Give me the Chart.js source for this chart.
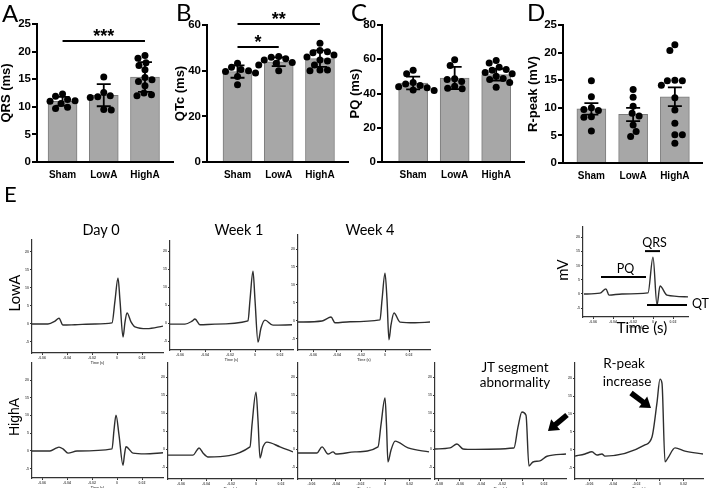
<!DOCTYPE html>
<html><head><meta charset="utf-8">
<script src="https://cdn.jsdelivr.net/npm/chart.js@4.4.1/dist/chart.umd.min.js"></script>
<style>
html,body{margin:0;padding:0;background:#fff;width:709px;height:488px;overflow:hidden;position:relative}
canvas{position:absolute}
#ov{position:absolute;left:0;top:0;z-index:5}
</style></head><body>
<script>
// ---------- DATA ----------
const groups = ['Sham', 'LowA', 'HighA'];

// A: QRS (ms)
const qrsSham  = [12.3, 11.9, 11.3, 11.1, 11.0, 10.6, 9.9, 9.7];
const qrsLowA  = [15.4, 12.6, 12.0, 11.8, 11.7, 9.5, 9.4];
const qrsHighA = [19.3, 18.8, 18.0, 17.5, 16.7, 15.3, 14.9, 14.6, 13.8, 12.5, 12.2, 12.0];
const qrsMean  = [11.0, 12.1, 15.4];
const qrsErr   = [0.8, 2.0, 2.7];
const qrsSig   = [[0, 2, 21.9, '***']];

// B: QTc (ms)
const qtcSham  = [43.3, 41.5, 40.5, 40.0, 39.6, 39.0, 37.4, 33.8];
const qtcLowA  = [46.2, 45.9, 45.2, 44.7, 43.6, 43.2, 42.5, 40.0];
const qtcHighA = [52.0, 48.8, 48.3, 47.9, 46.9, 46.0, 44.7, 44.2, 42.5, 40.3, 40.3, 40.0];
const qtcMean  = [39.6, 43.9, 45.3];
const qtcErr   = [2.7, 1.9, 3.6];
const qtcSig   = [[0, 1, 50.4, '*'], [0, 2, 60.4, '**']];

// C: PQ (ms)
const pqSham  = [53.6, 51.6, 46.4, 45.5, 44.7, 43.9, 43.4, 42.0, 41.8];
const pqLowA  = [59.7, 56.3, 48.6, 48.2, 47.0, 44.3, 43.0, 42.8];
const pqHighA = [59.2, 57.8, 55.3, 54.0, 53.6, 52.3, 51.5, 50.1, 48.7, 48.2, 46.4, 43.7];
const pqMean  = [46.1, 49.0, 51.0];
const pqErr   = [3.7, 6.5, 3.4];

// D: R-peak (mV)
const rpSham  = [14.9, 12.0, 10.0, 9.7, 9.5, 8.4, 8.3, 5.8];
const rpLowA  = [13.3, 11.9, 10.3, 9.0, 8.5, 6.9, 5.7, 4.8];
const rpHighA = [21.4, 20.4, 15.0, 14.9, 14.9, 14.1, 11.8, 9.6, 7.2, 5.1, 5.1, 3.6];
const rpMean  = [9.8, 8.8, 12.0];
const rpErr   = [1.05, 1.2, 1.7];

// E: ECG traces  [time (s), mV]
const lowA_day0 = [[-0.068,0],[-0.0552,0],[-0.0496,0.8],[-0.0464,1.6],[-0.0432,-0.3],[-0.0336,-0.2],[-0.0176,0],[-0.004,0.3],[-0.0016,6.5],[0.0008,12.8],[0.0024,6.5],[0.0048,-3.6],[0.0064,0.5],[0.008,3.1],[0.0112,0.6],[0.0144,-0.8],[0.024,-1.3],[0.0368,-0.6]];
const lowA_week1 = [[-0.068,-0.3],[-0.056,-0.3],[-0.0504,0.5],[-0.048,1.1],[-0.044,-0.5],[-0.032,-0.3],[-0.0056,0.6],[-0.004,6.4],[-0.0016,14.4],[0,6.4],[0.0024,-5.3],[0.0048,-1.4],[0.008,0.8],[0.0144,-0.6],[0.0296,-0.5]];
const lowA_week4 = [[-0.0725,-0.3],[-0.0525,0],[-0.0475,0.8],[-0.045,1.1],[-0.0417,-0.5],[-0.029,-0.2],[-0.0042,0.3],[-0.0025,5.8],[0,13.3],[0.0017,5.8],[0.0033,-5.2],[0.005,-1.1],[0.0075,2.2],[0.0125,-0.3],[0.025,-0.5],[0.0375,-0.3]];
const highA_day0 = [[-0.068,0],[-0.0536,0],[-0.0488,0.8],[-0.0464,1.1],[-0.0432,0.6],[-0.0392,-0.6],[-0.032,0],[-0.004,0.6],[-0.0024,5.9],[-0.0008,10.1],[0.0016,4.5],[0.0048,-4.0],[0.006,-1.0],[0.0072,1.2],[0.0128,-0.6],[0.0224,-0.8],[0.0368,-0.5]];
const highA_week1 = [[-0.0704,-1.7],[-0.0504,-1.7],[-0.0472,-0.3],[-0.0456,0.3],[-0.0424,-1.1],[-0.0384,-2.2],[-0.0048,0.6],[-0.0032,6.7],[0,15.8],[0.0016,8],[0.0032,-2.5],[0.0056,0.6],[0.0088,1.9],[0.0192,0.6],[0.0296,-0.8]];
const highA_week4 = [[-0.071,-1.1],[-0.0555,-1.1],[-0.0514,0.6],[-0.0465,-1.4],[-0.0424,-0.8],[-0.04,-1.4],[-0.0245,-0.8],[-0.0057,0.6],[-0.0033,6.7],[0,14.2],[0.0012,6.7],[0.0024,-3.6],[0.0049,-0.3],[0.0082,2.2],[0.0188,0.3],[0.0359,-0.8]];
const highA_jt = [[-0.0838,0],[-0.0695,0.3],[-0.0629,1.4],[-0.0571,0],[-0.0524,-0.1],[-0.0086,0.3],[-0.0048,6],[-0.001,10.3],[0.0029,9.4],[0.0057,-4.7],[0.0095,-3.6],[0.0162,-3.3],[0.0229,-2.0],[0.041,-1.4]];
const highA_rpeak = [[-0.0723,-1.7],[-0.0638,-1.1],[-0.0579,-0.5],[-0.0536,-1.4],[-0.0494,-1.1],[-0.0468,-1.7],[-0.0128,1.4],[-0.0068,3.6],[-0.0026,13],[0,19.7],[0.0017,18.6],[0.0043,-3.3],[0.0068,-2.2],[0.0128,0.6],[0.0213,-0.3],[0.0366,-1.1]];
const scheme = [[-0.069,0],[-0.053,0.3],[-0.047,1.8],[-0.044,-0.4],[-0.031,0],[-0.005,0.4],[0,13],[0.004,-3.9],[0.007,2.8],[0.014,-0.4],[0.035,-1.0]];
const schemeMarks = [['QRS', -0.008, 0.007, 15.1, 'above'], ['PQ', -0.052, -0.007, 6, 'above'], ['QT', -0.006, 0.034, -3.9, 'right']];

const ecgYTicks = [-5, 0, 5, 10, 15, 20];
const ecgXTicks = [-0.08, -0.06, -0.04, -0.02, 0, 0.02];

// ---------- HELPERS ----------
Chart.defaults.font.family = '"Liberation Sans", Arial, sans-serif';
Chart.defaults.color = '#000';
Chart.defaults.plugins.legend.display = false;
Chart.defaults.plugins.tooltip.enabled = false;

function mkCanvas(l, t, w, h) {
  const c = document.createElement('canvas');
  c.width = w; c.height = h;
  c.style.left = l + 'px'; c.style.top = t + 'px';
  c.style.width = w + 'px'; c.style.height = h + 'px';
  document.body.appendChild(c);
  return c;
}

function swarm(vals, pxY, pxX, d) {
  const order = vals.map((v, i) => i).sort((a, b) => vals[b] - vals[a]);
  const placed = [], out = [];
  order.forEach((i, k) => {
    const yp = vals[i] * pxY;
    let off = 0;
    outer: for (let s = 0; s < 60; s += 0.5) {
      const cands = s === 0 ? [0] : (k % 2 ? [-s, s] : [s, -s]);
      for (const c of cands) {
        if (placed.every(p => Math.hypot(p[0] - c, p[1] - yp) >= d)) { off = c; break outer; }
      }
    }
    placed.push([off, yp]);
    out.push({ x: off / pxX, y: vals[i] });
  });
  return out;
}

const errPlugin = (mean, err) => ({
  id: 'errbars',
  afterDatasetDraw(chart, args) {
    if (args.meta.type !== 'bar') return;
    const { ctx, scales: { x, y } } = chart;
    ctx.save(); ctx.strokeStyle = '#000'; ctx.lineWidth = 1.8;
    mean.forEach((m, i) => {
      const px = x.getPixelForValue(i), y1 = y.getPixelForValue(m - err[i]), y2 = y.getPixelForValue(m + err[i]);
      ctx.beginPath();
      ctx.moveTo(px, y1); ctx.lineTo(px, y2);
      ctx.moveTo(px - 7, y1); ctx.lineTo(px + 7, y1);
      ctx.moveTo(px - 7, y2); ctx.lineTo(px + 7, y2);
      ctx.stroke();
    });
    ctx.restore();
  }
});

const sigPlugin = (sig) => ({
  id: 'sig',
  afterDraw(chart) {
    const { ctx, scales: { x, y } } = chart;
    ctx.save(); ctx.strokeStyle = '#000'; ctx.fillStyle = '#000'; ctx.lineWidth = 2;
    ctx.font = 'bold 18px "Liberation Sans", Arial, sans-serif';
    ctx.textAlign = 'center'; ctx.textBaseline = 'alphabetic';
    sig.forEach(([a, b, v, lab]) => {
      const py = y.getPixelForValue(v), xa = x.getPixelForValue(a), xb = x.getPixelForValue(b);
      ctx.beginPath(); ctx.moveTo(xa, py); ctx.lineTo(xb, py); ctx.stroke();
      ctx.fillText(lab, (xa + xb) / 2, py + 1);
    });
    ctx.restore();
  }
});

function barPanel(o) {
  const H = 185;
  const c = mkCanvas(o.cl, 0, o.cw, H);
  const pxY = (o.bot - o.top) / o.ymax, pxX = (o.ra - o.la) / (o.xmax - o.xmin);
  const dots = [];
  o.pts.forEach((vals, gi) => swarm(vals, pxY, pxX, 7.2).forEach(p => dots.push({ x: gi + p.x, y: p.y })));
  new Chart(c, {
    type: 'bar',
    data: { datasets: [
      { type: 'scatter', data: dots, pointRadius: 3.5, pointBackgroundColor: '#000', pointBorderColor: '#000', pointBorderWidth: 0, order: 1 },
      { type: 'bar', data: o.mean.map((m, i) => ({ x: i, y: m })), backgroundColor: '#a7a7a7', borderColor: '#7c7c7c', borderWidth: 1, barThickness: 29, order: 2 }
    ]},
    options: {
      responsive: false, animation: false,
      layout: { padding: { top: o.top, right: o.cw - (o.ra - o.cl), left: 0, bottom: 0 } },
      scales: {
        x: { type: 'linear', min: o.xmin, max: o.xmax, offset: false,
             afterBuildTicks: s => { s.ticks = groups.map((g, i) => ({ value: i })); },
             afterFit: s => { s.height = H - o.bot; },
             ticks: { callback: v => groups[v] ?? '', font: { size: 10, weight: 'bold' }, padding: 7, color: '#000', autoSkip: false, maxRotation: 0 },
             grid: { display: true, drawOnChartArea: false, drawTicks: false },
             border: { display: true, color: '#000', width: 2 } },
        y: { min: 0, max: o.ymax,
             afterFit: s => { s.width = o.la - o.cl; },
             ticks: { stepSize: o.step, font: { size: 11.5, weight: 'bold' }, padding: 1, color: '#000' },
             grid: { drawOnChartArea: false, drawTicks: true, tickLength: 5, color: '#000', lineWidth: 2 },
             border: { display: true, color: '#000', width: 2 },
             title: { display: true, text: o.title, font: { size: 13, weight: 'bold', lineHeight: 1 }, padding: 0, color: '#000' } }
      }
    },
    plugins: [errPlugin(o.mean, o.err), sigPlugin(o.sig || [])]
  });
}

function ecgPanel(rect, xr, yr, pts, extra) {
  extra = extra || {};
  const [l, t, r, b] = rect;
  const axW = 14, padT = 4, padR = extra.padR ?? 3, axH = 12;
  const c = mkCanvas(l - axW, t - padT, r - l + axW + padR, b - t + padT + axH);
  new Chart(c, {
    type: 'line',
    data: { datasets: [{ data: pts.map(p => ({ x: p[0], y: p[1] })), borderColor: '#2e2e2e', borderWidth: 1.4, pointRadius: 0, cubicInterpolationMode: 'monotone', fill: false }] },
    options: {
      responsive: false, animation: false,
      layout: { padding: { top: padT, right: padR, left: 0, bottom: 0 } },
      scales: {
        x: { type: 'linear', min: xr[0], max: xr[1],
             afterBuildTicks: s => { s.ticks = ecgXTicks.filter(v => v >= xr[0] && v <= xr[1]).map(v => ({ value: v })); },
             afterFit: s => { s.height = axH; },
             ticks: { font: { size: 3.5, weight: 'bold' }, padding: 1, color: '#555', autoSkip: false, maxRotation: 0, callback: v => String(v) },
             grid: { drawOnChartArea: false, tickLength: 2, color: '#333', lineWidth: 1 },
             border: { color: '#333', width: 1.2 },
             title: { display: true, text: 'Time (s)', font: { size: 3.5, weight: 'bold' }, padding: 0, color: '#555' } },
        y: { min: yr[0], max: yr[1],
             afterBuildTicks: s => { s.ticks = ecgYTicks.map(v => ({ value: v })); },
             afterFit: s => { s.width = axW; },
             ticks: { font: { size: 3.5, weight: 'bold' }, padding: 1, color: '#555', autoSkip: false, callback: v => String(v) },
             grid: { drawOnChartArea: false, tickLength: 2, color: '#333', lineWidth: 1 },
             border: { color: '#333', width: 1.2 } }
      }
    },
    plugins: extra.plugins || []
  });
}

const markPlugin = {
  id: 'marks',
  afterDraw(chart) {
    const { ctx, scales: { x, y } } = chart;
    ctx.save(); ctx.strokeStyle = '#000'; ctx.fillStyle = '#000'; ctx.lineWidth = 2;
    ctx.font = '12.5px Lato, "Open Sans", sans-serif';
    schemeMarks.forEach(([lab, a, b, v, pos]) => {
      const py = y.getPixelForValue(v), xa = x.getPixelForValue(a), xb = x.getPixelForValue(b);
      ctx.beginPath(); ctx.moveTo(xa, py); ctx.lineTo(xb, py); ctx.stroke();
      if (pos === 'above') { ctx.textAlign = 'center'; ctx.fillText(lab, (xa + xb) / 2 + 2, py - 4); }
      else { ctx.textAlign = 'left'; ctx.fillText(lab, xb + 5, py + 3); }
    });
    ctx.restore();
  }
};

// ---------- TOP PANELS ----------
barPanel({ cl: 0,   cw: 178, la: 37,  ra: 173, top: 24, bot: 162, ymax: 25, step: 5,  xmin: -0.62, xmax: 2.68, title: 'QRS (ms)',    mean: qrsMean, err: qrsErr, pts: [qrsSham, qrsLowA, qrsHighA], sig: qrsSig });
barPanel({ cl: 174, cw: 180, la: 207, ra: 348, top: 25, bot: 162, ymax: 60, step: 20, xmin: -0.74, xmax: 2.68, title: 'QTc (ms)',    mean: qtcMean, err: qtcErr, pts: [qtcSham, qtcLowA, qtcHighA], sig: qtcSig });
barPanel({ cl: 349, cw: 179, la: 382, ra: 524, top: 25, bot: 162, ymax: 80, step: 20, xmin: -0.75, xmax: 2.67, title: 'PQ (ms)',     mean: pqMean,  err: pqErr,  pts: [pqSham, pqLowA, pqHighA] });
barPanel({ cl: 527, cw: 182, la: 563, ra: 702, top: 25, bot: 163, ymax: 25, step: 5,  xmin: -0.68, xmax: 2.65, title: 'R-peak (mV)', mean: rpMean,  err: rpErr,  pts: [rpSham, rpLowA, rpHighA] });

// ---------- PANEL E ----------
ecgPanel([32, 240, 163, 353],  [-0.068, 0.0368],  [-8.06, 23.33], lowA_day0);
ecgPanel([170, 241, 293, 350], [-0.068, 0.0304],  [-7.5, 22.78],  lowA_week1);
ecgPanel([298, 235, 430, 350], [-0.0725, 0.0375], [-8.06, 23.89], lowA_week4);
ecgPanel([32, 363, 163, 478],  [-0.068, 0.0368],  [-7.61, 24.79], highA_day0);
ecgPanel([168, 363, 293, 479], [-0.0704, 0.0296], [-8.33, 23.89], highA_week1);
ecgPanel([298, 363, 430, 479], [-0.071, 0.0367],  [-8.33, 23.89], highA_week4);
ecgPanel([435, 363, 566, 479], [-0.0838, 0.041],  [-8.33, 23.89], highA_jt);
ecgPanel([575, 363, 703, 479], [-0.0723, 0.0366], [-8.06, 24.17], highA_rpeak);
ecgPanel([583, 227, 688, 317], [-0.07, 0.035],    [-8.1, 23.59],  scheme, { padR: 21, plugins: [markPlugin] });

// ---------- TEXT & ARROWS OVERLAY ----------
function arrow(tail, tip) {
  const dx = tip[0] - tail[0], dy = tip[1] - tail[1], L = Math.hypot(dx, dy);
  const ux = dx / L, uy = dy / L, nx = -uy, ny = ux;
  const bx = tip[0] - 10 * ux, by = tip[1] - 10 * uy;
  return `<line x1="${tail[0]}" y1="${tail[1]}" x2="${bx + ux}" y2="${by + uy}" stroke="#000" stroke-width="5.5"/>` +
         `<polygon points="${tip[0]},${tip[1]} ${bx + 7 * nx},${by + 7 * ny} ${bx - 7 * nx},${by - 7 * ny}" fill="#000"/>`;
}
const F = 'Lato, "Open Sans", sans-serif';
const svg = `<svg id="ov" width="709" height="488" xmlns="http://www.w3.org/2000/svg">
<g font-family='${F}' fill="#000">
<text x="2" y="22" font-size="24">A</text>
<text x="176" y="21" font-size="24">B</text>
<text x="351" y="21" font-size="24">C</text>
<text x="527" y="21" font-size="24">D</text>
<text x="4" y="202" font-size="22">E</text>
<text x="101" y="235" font-size="14.5" text-anchor="middle">Day 0</text>
<text x="239" y="235" font-size="14.5" text-anchor="middle">Week 1</text>
<text x="370" y="235" font-size="14.5" text-anchor="middle">Week 4</text>
<text transform="translate(20,293) rotate(-90)" font-size="15" text-anchor="middle">LowA</text>
<text transform="translate(19,417) rotate(-90)" font-size="14" text-anchor="middle" font-family='"Liberation Sans", Arial, sans-serif'>HighA</text>
<text x="515" y="372" font-size="13.5" text-anchor="middle">JT segment</text>
<text x="515" y="387" font-size="13.5" text-anchor="middle">abnormality</text>
<text x="624" y="368" font-size="13.5" text-anchor="middle">R-peak</text>
<text x="627" y="386" font-size="13.5" text-anchor="middle">increase</text>
<text transform="translate(568,270) rotate(-90)" font-size="15" text-anchor="middle">mV</text>
<text x="642" y="333" font-size="15" text-anchor="middle">Time (s)</text>
</g>
${arrow([567, 415], [548, 431])}
${arrow([631, 393], [651, 408])}
</svg>`;
document.body.insertAdjacentHTML('beforeend', svg);
</script>
</body></html>
